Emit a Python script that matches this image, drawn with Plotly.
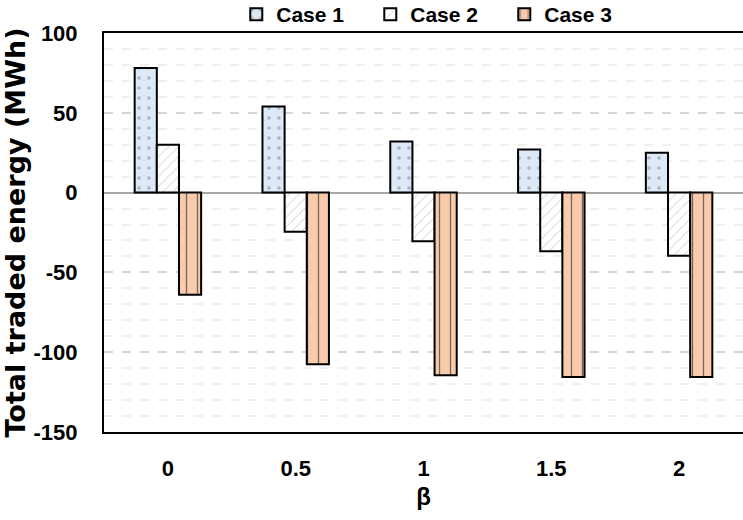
import plotly.graph_objects as go

categories = ["0", "0.5", "1", "1.5", "2"]
case1 = [78, 54, 32, 27, 25]
case2 = [30, -24.5, -30.5, -36.8, -39.5]
case3 = [-64, -107.5, -114.5, -115.6, -115.6]
series_names = ["Case 1", "Case 2", "Case 3"]
y_ticks = [100, 50, 0, -50, -100, -150]
y_tick_labels = ["100", "50", "0", "-50", "-100", "-150"]

sans = "Liberation Sans, Arial"

fig = go.Figure()
fig.add_trace(go.Bar(
    x=categories, y=case1, name=series_names[0],
    marker=dict(color="#DCE9F6", line=dict(color="black", width=2),
                pattern=dict(shape=".", fgcolor="#808080", size=10, solidity=0.1)),
))
fig.add_trace(go.Bar(
    x=categories, y=case2, name=series_names[1],
    marker=dict(color="white", line=dict(color="black", width=2),
                pattern=dict(shape="/", fgcolor="#888888", size=7, solidity=0.12)),
))
fig.add_trace(go.Bar(
    x=categories, y=case3, name=series_names[2],
    marker=dict(color="#F8CBAD", line=dict(color="black", width=2),
                pattern=dict(shape="|", fgcolor="black", size=11, solidity=0.12)),
))

fig.update_layout(
    width=743, height=520,
    margin=dict(l=104, r=0, t=33, b=88, autoexpand=False),
    paper_bgcolor="white", plot_bgcolor="white",
    barmode="group", bargap=0.48, bargroupgap=0,
    font=dict(family=sans, size=18, color="black"),
    showlegend=True,
    legend=dict(orientation="h", x=0.318, xanchor="left", xref="container",
                y=0.972, yanchor="middle", yref="container",
                font=dict(family=sans, size=21, color="black", weight="bold"),
                itemwidth=30, traceorder="normal", entrywidthmode="pixels", entrywidth=89,
                tracegroupgap=0, bgcolor="rgba(0,0,0,0)"),
    xaxis=dict(
        title=dict(text="β", font=dict(family=sans, size=24, weight="bold"), standoff=8),
        tickfont=dict(family=sans, size=22, weight="bold"),
        showline=True, linecolor="black", linewidth=2, mirror=True,
        ticks="outside", ticklen=16, tickcolor="rgba(0,0,0,0)", showgrid=False,
    ),
    yaxis=dict(
        title=dict(text="Total traded energy (MWh)",
                   font=dict(family="DejaVu Sans", size=27, weight="bold"), standoff=10),
        range=[-150, 100],
        tickvals=y_ticks, ticktext=y_tick_labels,
        tickfont=dict(family=sans, size=22, weight="bold"),
        showline=True, linecolor="black", linewidth=2, mirror=False,
        ticks="outside", ticklen=20, tickcolor="rgba(0,0,0,0)",
        showgrid=True, gridcolor="#D6D6D6", griddash="dash", gridwidth=2,
        minor=dict(dtick=10, showgrid=True, gridcolor="#EFEFEF", gridwidth=2),
        zeroline=True, zerolinecolor="#A6A6A6", zerolinewidth=2,
    ),
)

fig.write_html("out.html")
